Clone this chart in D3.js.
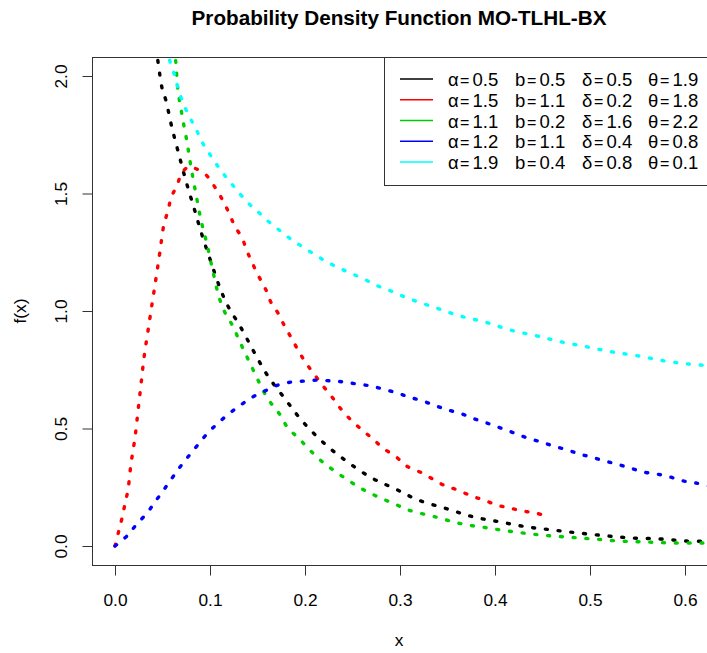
<!DOCTYPE html>
<meta charset="utf-8">
<title>Probability Density Function MO-TLHL-BX</title>
<style>
  body { margin: 0; background: #fff; }
  text { font-family: "Liberation Sans", Arial, sans-serif; fill: #000; }
</style>
<body>
<div id="chart"></div>
<script src="https://d3js.org/d3.v7.min.js"></script>
<script>

// values
const xTicks = [0.0, 0.1, 0.2, 0.3, 0.4, 0.5, 0.6];
const yTicks = [0.0, 0.5, 1.0, 1.5, 2.0];

const blackX = [0.043, 0.0453, 0.0495, 0.0537, 0.060, 0.0674, 0.0747, 0.0832, 0.0916, 0.101, 0.1105, 0.119, 0.1316, 0.1463, 0.161, 0.179, 0.197, 0.221, 0.245, 0.2705, 0.295, 0.319, 0.3505, 0.378, 0.406, 0.434, 0.461, 0.489, 0.518, 0.545, 0.574, 0.602, 0.63];
const blackY = [2.12, 2.06, 1.949, 1.894, 1.779, 1.664, 1.553, 1.438, 1.323, 1.209, 1.098, 1.02, 0.936, 0.826, 0.723, 0.626, 0.532, 0.434, 0.357, 0.289, 0.243, 0.196, 0.157, 0.123, 0.102, 0.081, 0.068, 0.055, 0.043, 0.034, 0.030, 0.021, 0.020];

const redX = [0, 0.004, 0.0074, 0.0105, 0.0137, 0.0168, 0.021, 0.0242, 0.0274, 0.0305, 0.0347, 0.039, 0.0432, 0.0474, 0.0516, 0.0558, 0.059, 0.0653, 0.0705, 0.077, 0.083, 0.0958, 0.105, 0.1126, 0.120, 0.126, 0.1337, 0.139, 0.145, 0.1516, 0.159, 0.164, 0.1716, 0.179, 0.1863, 0.1937, 0.201, 0.2095, 0.219, 0.2284, 0.237, 0.2484, 0.26, 0.2716, 0.282, 0.296, 0.307, 0.323, 0.336, 0.348, 0.361, 0.375, 0.388, 0.402, 0.415, 0.429, 0.443, 0.458];
const redY = [0, 0.064, 0.119, 0.179, 0.240, 0.349, 0.460, 0.574, 0.689, 0.800, 0.915, 1.030, 1.140, 1.255, 1.370, 1.426, 1.481, 1.536, 1.587, 1.613, 1.609, 1.579, 1.528, 1.477, 1.417, 1.362, 1.311, 1.255, 1.200, 1.145, 1.089, 1.038, 0.991, 0.932, 0.881, 0.826, 0.779, 0.732, 0.681, 0.634, 0.587, 0.536, 0.494, 0.455, 0.417, 0.379, 0.340, 0.311, 0.281, 0.255, 0.238, 0.213, 0.196, 0.174, 0.162, 0.149, 0.140, 0.123];

const greenX = [0.062, 0.064, 0.066, 0.0705, 0.0758, 0.080, 0.085, 0.0905, 0.097, 0.103, 0.1095, 0.116, 0.124, 0.1305, 0.137, 0.143, 0.1495, 0.156, 0.164, 0.174, 0.182, 0.193, 0.204, 0.216, 0.228, 0.242, 0.255, 0.268, 0.282, 0.297, 0.309, 0.338, 0.365, 0.392, 0.42, 0.448, 0.476, 0.503, 0.532, 0.56, 0.587, 0.616, 0.63];
const greenY = [2.12, 2.06, 1.949, 1.834, 1.719, 1.613, 1.502, 1.387, 1.281, 1.170, 1.060, 0.991, 0.936, 0.877, 0.821, 0.770, 0.715, 0.660, 0.609, 0.557, 0.502, 0.460, 0.413, 0.366, 0.328, 0.289, 0.255, 0.226, 0.200, 0.174, 0.153, 0.123, 0.094, 0.077, 0.060, 0.047, 0.038, 0.030, 0.021, 0.017, 0.013, 0.013, 0.012];

const blueX = [0, 0.0137, 0.023, 0.0337, 0.042, 0.0505, 0.060, 0.0684, 0.0768, 0.0863, 0.0968, 0.1084, 0.121, 0.1337, 0.145, 0.158, 0.1716, 0.1863, 0.200, 0.2137, 0.2284, 0.241, 0.2547, 0.2695, 0.282, 0.297, 0.3095, 0.324, 0.338, 0.3505, 0.365, 0.379, 0.3916, 0.406, 0.42, 0.4337, 0.448, 0.461, 0.476, 0.489, 0.501, 0.515, 0.528, 0.542, 0.556, 0.5705, 0.584, 0.598, 0.6116, 0.63];
const blueY = [0, 0.047, 0.094, 0.140, 0.187, 0.234, 0.289, 0.336, 0.379, 0.426, 0.477, 0.523, 0.566, 0.604, 0.634, 0.660, 0.685, 0.698, 0.702, 0.706, 0.702, 0.698, 0.689, 0.681, 0.668, 0.651, 0.634, 0.617, 0.596, 0.579, 0.562, 0.540, 0.523, 0.502, 0.481, 0.460, 0.443, 0.426, 0.409, 0.391, 0.379, 0.362, 0.349, 0.332, 0.315, 0.306, 0.294, 0.277, 0.268, 0.250];

const cyanX = [0.054, 0.058, 0.063, 0.0663, 0.0716, 0.078, 0.0853, 0.0916, 0.099, 0.1074, 0.1168, 0.1274, 0.139, 0.1495, 0.161, 0.1726, 0.185, 0.198, 0.2126, 0.2253, 0.238, 0.2505, 0.264, 0.277, 0.2905, 0.3105, 0.338, 0.363, 0.3895, 0.416, 0.444, 0.4705, 0.497, 0.523, 0.5505, 0.579, 0.605, 0.63];
const cyanY = [2.12, 2.06, 2.0, 1.949, 1.885, 1.830, 1.774, 1.719, 1.672, 1.621, 1.570, 1.519, 1.464, 1.426, 1.383, 1.345, 1.306, 1.272, 1.234, 1.204, 1.179, 1.157, 1.132, 1.106, 1.085, 1.051, 1.013, 0.979, 0.953, 0.919, 0.894, 0.868, 0.847, 0.826, 0.809, 0.787, 0.774, 0.766];

const seriesNames = ["black", "red", "green", "blue", "cyan"];
const seriesColors = ["#000000", "#FF0000", "#00CD00", "#0000FF", "#00FFFF"];
const legendAlpha = ["0.5", "1.5", "1.1", "1.2", "1.9"];
const legendB     = ["0.5", "1.1", "0.2", "1.1", "0.4"];
const legendDelta = ["0.5", "0.2", "1.6", "0.4", "0.8"];
const legendTheta = ["1.9", "1.8", "2.2", "0.8", "0.1"];

const seriesX = [blackX, redX, greenX, blueX, cyanX];
const seriesY = [blackY, redY, greenY, blueY, cyanY];

const W = 707, H = 653;
const box = {left: 92, top: 57, right: 708, bottom: 565};

const svg = d3.select("#chart").append("svg")
    .attr("width", W)
    .attr("height", H);

// scales: ticks 0..0.6 and 0..2 placed as in the picture
const x = d3.scaleLinear().domain([0, 0.6]).range([115, 685]);
const y = d3.scaleLinear().domain([0, 2]).range([546, 76]);

svg.append("defs").append("clipPath").attr("id", "plotclip")
  .append("rect")
    .attr("x", box.left).attr("y", box.top)
    .attr("width", box.right - box.left).attr("height", box.bottom - box.top);

// curves
const line = d3.line()
    .x(d => x(d[0]))
    .y(d => y(d[1]))
    .curve(d3.curveCatmullRom.alpha(0.5));

const curves = svg.append("g").attr("clip-path", "url(#plotclip)");
seriesNames.forEach((name, i) => {
  const pts = seriesX[i].map((v, j) => [v, seriesY[i][j]]);
  curves.append("path")
      .datum(pts)
      .attr("d", line)
      .attr("fill", "none")
      .attr("stroke", seriesColors[i])
      .attr("stroke-width", 3.4)
      .attr("stroke-linecap", "round")
      .attr("stroke-dasharray", "2 10.8");
});

// plot box
svg.append("rect")
    .attr("x", box.left + 0.5).attr("y", box.top + 0.5)
    .attr("width", box.right - box.left).attr("height", box.bottom - box.top)
    .attr("fill", "none")
    .attr("stroke", "#333")
    .attr("stroke-width", 1);

// x axis
const xAxis = svg.append("g")
    .attr("transform", `translate(0,${box.bottom + 0.5})`)
    .call(d3.axisBottom(x).tickValues(xTicks).tickFormat(d3.format(".1f")).tickSize(10).tickPadding(18));
xAxis.select(".domain").remove();
xAxis.selectAll("line").attr("stroke", "#333");
xAxis.selectAll("text").attr("font-size", 17.3).attr("font-family", "Liberation Sans, Arial, sans-serif");

// y axis
const yAxis = svg.append("g")
    .attr("transform", `translate(${box.left + 0.5},0)`)
    .call(d3.axisLeft(y).tickValues(yTicks).tickFormat(d3.format(".1f")).tickSize(10));
yAxis.select(".domain").remove();
yAxis.selectAll("line").attr("stroke", "#333");
yAxis.selectAll("text")
    .attr("x", null).attr("dy", null)
    .attr("font-size", 17.3)
    .attr("font-family", "Liberation Sans, Arial, sans-serif")
    .attr("text-anchor", "middle")
    .attr("transform", "translate(-26,0) rotate(-90)");

// titles
svg.append("text")
    .attr("x", 399).attr("y", 25)
    .attr("text-anchor", "middle")
    .attr("font-size", 20.7)
    .attr("font-weight", "bold")
    .text("Probability Density Function MO-TLHL-BX");

svg.append("text")
    .attr("x", 399).attr("y", 646)
    .attr("text-anchor", "middle")
    .attr("font-size", 17.3)
    .text("x");

svg.append("text")
    .attr("transform", "translate(26,311) rotate(-90)")
    .attr("text-anchor", "middle")
    .attr("font-size", 17.3)
    .text("f(x)");

// legend
const legend = svg.append("g");
legend.append("rect")
    .attr("x", 384.5).attr("y", box.top + 0.5)
    .attr("width", 340).attr("height", 128)
    .attr("fill", "#fff")
    .attr("stroke", "#333");

const cols = [
  {sym: "α", vals: legendAlpha, x: 448},
  {sym: "b", vals: legendB, x: 515},
  {sym: "δ", vals: legendDelta, x: 582},
  {sym: "θ", vals: legendTheta, x: 648}
];

seriesNames.forEach((name, i) => {
  const base = 86 + i * 20.75;
  legend.append("line")
      .attr("x1", 400).attr("x2", 433)
      .attr("y1", base - 7).attr("y2", base - 7)
      .attr("stroke", seriesColors[i])
      .attr("stroke-width", 1.3);
  cols.forEach(c => {
    const t = legend.append("text").attr("y", base).attr("font-size", 18.5);
    t.append("tspan").attr("x", c.x).text(c.sym);
    t.append("tspan").attr("x", c.x + 12).attr("font-size", 16).text("=");
    t.append("tspan").attr("x", c.x + 24.5).text(c.vals[i]);
  });
});

</script>
</body>
